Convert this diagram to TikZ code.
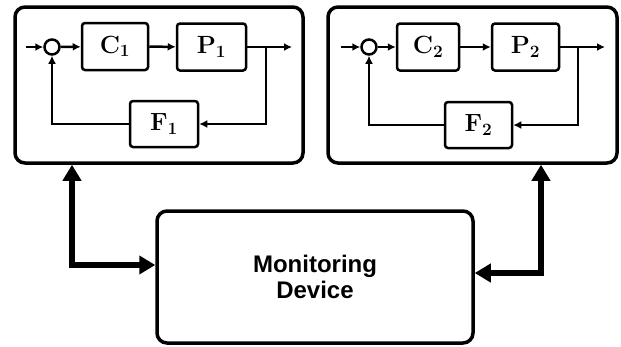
\documentclass[tikz,border=0pt]{standalone}
\usepackage{fontspec}
\newfontfamily\labelsans{Liberation Sans}
\usetikzlibrary{arrows.meta}
\begin{document}
\begin{tikzpicture}[x=1pt,y=-1pt,
  sysbox/.style={draw,line width=3.5pt,rounded corners=10pt,inner sep=0pt},
  blockbox/.style={draw,line width=2.5pt,rounded corners=3pt,inner sep=0pt,
    font=\fontsize{26}{30}\selectfont\boldmath},
  sumnode/.style={draw,circle,line width=2.5pt,minimum size=15pt,inner sep=0pt},
  sig/.style={line width=2.5pt,-{Latex[length=8pt,width=8pt]}},
  bigarrow/.style={line width=6pt,{Triangle[length=16pt,width=18pt]}-{Triangle[length=16pt,width=18pt]}},
]
\useasboundingbox (0,0) rectangle (621,346);

% outer system frames and the monitoring unit
\node[sysbox,minimum width=288pt,minimum height=156pt] (sys1) at (159,85) {};
\node[sysbox,minimum width=289pt,minimum height=156pt] (sys2) at (472.5,85) {};
\node[sysbox,minimum width=316pt,minimum height=132pt,align=center,
  font=\labelsans\bfseries\fontsize{24}{26}\selectfont] (mon) at (315,277)
  {Monitoring\\Device};

% loop 1
\coordinate (in1) at (26,47);
\node[sumnode] (s1) at (52,47) {};
\node[blockbox,minimum width=66pt,minimum height=47pt] (c1) at (115,46.5) {$\mathbf{C}_1$};
\node[blockbox,minimum width=69pt,minimum height=47pt] (p1) at (211.5,47) {$\mathbf{P}_1$};
\node[blockbox,minimum width=68pt,minimum height=46pt] (f1) at (164,124) {$\mathbf{F}_1$};
\coordinate (b1) at (266,47);
\coordinate (out1) at (292,47);
\draw[sig] (in1) -- (s1);
\draw[sig] (s1) -- (c1);
\draw[sig] (c1) -- (p1);
\draw[sig] (p1) -- (out1);
\draw[sig] (b1) |- (f1);
\draw[sig] (f1) -| (s1);

% loop 2
\coordinate (in2) at (341,47);
\node[sumnode] (s2) at (369,47) {};
\node[blockbox,minimum width=62pt,minimum height=47pt] (c2) at (428,47) {$\mathbf{C}_2$};
\node[blockbox,minimum width=67pt,minimum height=47pt] (p2) at (525.5,47) {$\mathbf{P}_2$};
\node[blockbox,minimum width=67pt,minimum height=46pt] (f2) at (478.5,125) {$\mathbf{F}_2$};
\coordinate (b2) at (578,47);
\coordinate (out2) at (605,47);
\draw[sig] (in2) -- (s2);
\draw[sig] (s2) -- (c2);
\draw[sig] (c2) -- (p2);
\draw[sig] (p2) -- (out2);
\draw[sig] (b2) |- (f2);
\draw[sig] (f2) -| (s2);

% links between the monitoring unit and both systems
\coordinate (j1) at (72,265);
\coordinate (j2) at (541,273);
\draw[bigarrow] (sys1.south -| j1) -- (j1) -- (mon.west |- j1);
\draw[bigarrow] (sys2.south -| j2) -- (j2) -- (mon.east |- j2);
\end{tikzpicture}
\end{document}
